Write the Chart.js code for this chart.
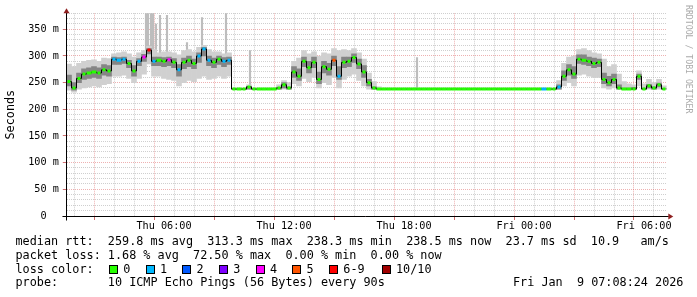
<!DOCTYPE html>
<html>
<head>
<meta charset="utf-8">
<script src="https://cdn.jsdelivr.net/npm/chart.js@4.4.1/dist/chart.umd.min.js"></script>
<style>
  body { margin: 0; background: #fff; }
  #wrap { position: relative; width: 697px; height: 297px; overflow: hidden; }
  #chart { position: absolute; left: 0; top: 0; }
  .leg { position: absolute; font-family: 'DejaVu Sans Mono', monospace; font-size: 11.8px; line-height: 14px; white-space: pre; color: #000; }
  .box { position: absolute; width: 7px; height: 7px; border: 1px solid #000; }
</style>
</head>
<body>
<div id="wrap">
  <canvas id="chart" width="697" height="297"></canvas>
</div>
<script>
// samples every 15 min, hours counted from Thu 00:00
const startHour = 1.25;
const stepHour = 0.25;

// median rtt (ms)
const median = [
  252, 240, 258, 266, 268, 270, 268, 274, 272, 294,
  292, 294, 286, 272, 290, 298, 311, 290, 292, 290,
  293, 288, 274, 288, 292, 286, 300, 313, 292, 288,
  294, 290, 292, 238, 238, 238, 242, 238, 238, 238,
  238, 238, 240, 246, 240, 270, 262, 290, 278, 288,
  256, 280, 275, 292, 262, 288, 290, 297, 285, 270,
  250, 240, 238, 238, 238, 238, 238, 238, 238, 238,
  238, 238, 238, 238, 238, 238, 238, 238, 238, 238,
  238, 238, 238, 238, 238, 238, 238, 238, 238, 238,
  238, 238, 238, 238, 238, 238, 238, 238, 242, 262,
  274, 266, 294, 292, 290, 286, 288, 256, 250, 256,
  240, 238, 238, 238, 262, 238, 244, 240, 246, 238
];

// smoke: outer (min/max of the pings) and inner band
const smokeHi = [
  285, 280, 286, 290, 292, 293, 290, 296, 295, 304,
  306, 308, 304, 298, 306, 310, 318, 312, 306, 308,
  308, 306, 302, 310, 312, 308, 316, 320, 312, 308,
  308, 304, 306, 240, 240, 240, 246, 240, 240, 240,
  240, 240, 246, 254, 250, 290, 296, 310, 304, 308,
  300, 306, 304, 314, 310, 312, 310, 314, 306, 294,
  268, 252, 242, 240, 240, 240, 240, 240, 240, 240,
  240, 240, 240, 240, 240, 240, 240, 240, 240, 240,
  240, 240, 240, 240, 240, 240, 240, 240, 240, 240,
  240, 240, 240, 240, 240, 240, 240, 240, 254, 286,
  298, 300, 312, 314, 310, 306, 304, 294, 280, 284,
  266, 252, 248, 246, 272, 248, 256, 250, 256, 244
];
const smokeLo = [
  236, 232, 238, 240, 242, 244, 242, 246, 248, 262,
  262, 264, 258, 250, 258, 266, 285, 262, 262, 258,
  256, 254, 244, 250, 254, 252, 258, 262, 256, 258,
  262, 258, 262, 238, 238, 238, 238, 238, 238, 238,
  238, 238, 238, 238, 238, 248, 244, 258, 252, 260,
  240, 250, 246, 260, 240, 256, 262, 266, 254, 244,
  238, 238, 238, 238, 238, 238, 238, 238, 238, 238,
  238, 238, 238, 238, 238, 238, 238, 238, 238, 238,
  238, 238, 238, 238, 238, 238, 238, 238, 238, 238,
  238, 238, 238, 238, 238, 238, 238, 238, 238, 244,
  250, 244, 264, 266, 262, 260, 260, 240, 238, 240,
  238, 238, 238, 238, 244, 238, 238, 238, 238, 238
];
const coreHi = [
  264, 250, 268, 276, 278, 280, 278, 284, 282, 298,
  297, 298, 292, 282, 295, 303, 314, 298, 298, 297,
  298, 295, 284, 296, 300, 294, 306, 316, 300, 296,
  300, 297, 298, 238, 238, 238, 243, 238, 238, 238,
  238, 238, 241, 250, 242, 280, 276, 298, 290, 298,
  270, 290, 286, 300, 280, 298, 298, 304, 294, 282,
  256, 242, 238, 238, 238, 238, 238, 238, 238, 238,
  238, 238, 238, 238, 238, 238, 238, 238, 238, 238,
  238, 238, 238, 238, 238, 238, 238, 238, 238, 238,
  238, 238, 238, 238, 238, 238, 238, 238, 246, 272,
  284, 280, 302, 302, 298, 296, 294, 268, 262, 266,
  246, 240, 240, 241, 266, 240, 247, 242, 249, 239
];
const coreLo = [
  244, 236, 250, 256, 258, 260, 258, 264, 262, 284,
  284, 286, 278, 262, 282, 290, 304, 282, 282, 280,
  282, 278, 262, 276, 280, 276, 288, 300, 282, 278,
  284, 280, 284, 238, 238, 238, 238, 238, 238, 238,
  238, 238, 238, 240, 238, 260, 254, 280, 268, 278,
  248, 268, 264, 282, 256, 278, 280, 288, 276, 260,
  244, 238, 238, 238, 238, 238, 238, 238, 238, 238,
  238, 238, 238, 238, 238, 238, 238, 238, 238, 238,
  238, 238, 238, 238, 238, 238, 238, 238, 238, 238,
  238, 238, 238, 238, 238, 238, 238, 238, 238, 254,
  264, 258, 286, 284, 282, 278, 280, 248, 244, 248,
  238, 238, 238, 238, 256, 238, 240, 238, 242, 238
];

// loss class per sample (index into lossColors)
const lossClass = [
  0, 0, 0, 0, 0, 0, 0, 0, 0, 1,
  1, 1, 0, 0, 1, 4, 6, 1, 0, 0,
  4, 0, 1, 0, 0, 0, 1, 1, 1, 0,
  0, 1, 1, 0, 0, 0, 0, 0, 0, 0,
  0, 0, 0, 0, 0, 0, 0, 0, 0, 0,
  0, 0, 0, 5, 1, 0, 0, 0, 0, 0,
  0, 0, 0, 0, 0, 0, 0, 0, 0, 0,
  0, 0, 0, 0, 0, 0, 0, 0, 0, 0,
  0, 0, 0, 0, 0, 0, 0, 0, 0, 0,
  0, 0, 0, 0, 0, 1, 0, 0, 1, 0,
  0, 0, 0, 0, 0, 0, 0, 0, 0, 0,
  0, 0, 0, 0, 0, 0, 0, 0, 0, 0
];

// single slow pings sticking out of the smoke
const spikeHours = [5.1, 5.2, 5.35, 5.45, 5.6, 5.8, 6.15, 7.15, 7.9, 9.1, 10.3, 18.65];
const spikeTops  = [380, 380, 380, 380, 360, 376, 376, 325, 372, 380, 310, 297];
const spikeBases = [300, 300, 305, 300, 290, 290, 290, 290, 295, 290, 238, 238];

const lossLabels = ['0', '1', '2', '3', '4', '5', '6-9', '10/10'];
const lossColors = ['#26ff00', '#00b8ff', '#0059ff', '#7e00ff', '#ff00ff', '#ff5500', '#ff0000', '#a10000'];

const xTickHours  = [6, 12, 18, 24, 30];
const xTickLabels = ['Thu 06:00', 'Thu 12:00', 'Thu 18:00', 'Fri 00:00', 'Fri 06:00'];
const yTickValues = [0, 50, 100, 150, 200, 250, 300, 350];
const yTickLabels = ['0  ', '50 m', '100 m', '150 m', '200 m', '250 m', '300 m', '350 m'];

const statsRtt  = 'median rtt:  259.8 ms avg  313.3 ms max  238.3 ms min  238.5 ms now  23.7 ms sd  10.9   am/s';
const statsLoss = 'packet loss: 1.68 % avg  72.50 % max  0.00 % min  0.00 % now';
const probeText = 'probe:       10 ICMP Echo Pings (56 Bytes) every 90s';
const stampText = 'Fri Jan  9 07:08:24 2026';

// --- layout / styles ---
const minorGrid = 'rgba(140,140,140,0.42)';
const majorGrid = 'rgba(215,70,70,0.42)';
const lossBoxX = [109, 145.7, 182.3, 219, 255.7, 292.3, 329, 381.7];

document.addEventListener('DOMContentLoaded', function () {
    const hours = median.map((v, i) => startHour + i * stepHour);
    const band = (lo, hi) => lo.map((v, i) => ({ x: hours[i], y: [v, hi[i]] }));
    const gridHours = Array.from({ length: 30 }, (_, k) => k + 2);
    const gridMs = Array.from({ length: 39 }, (_, k) => k * 10);

    // wide marker where the median stays level, narrow where it jumps
    const markerRadius = ctx => {
        const i = ctx.dataIndex;
        const prev = median[i - 1] ?? median[i];
        const next = median[i + 1] ?? median[i];
        return (Math.abs(prev - median[i]) < 3 && Math.abs(next - median[i]) < 3) ? 2.5 : 1.5;
    };

    const rrdDecor = {
        id: 'rrdDecor',
        afterDatasetsDraw(chart) {
            const { ctx, chartArea: a } = chart;
            const lx = Math.floor(a.left) + 0.5;
            const by = Math.round(a.bottom) + 0.5;
            ctx.save();
            ctx.strokeStyle = '#000';
            ctx.lineWidth = 1;
            ctx.beginPath();
            ctx.moveTo(lx - 4, by); ctx.lineTo(a.right + 2, by);
            ctx.moveTo(lx, by + 4); ctx.lineTo(lx, a.top - 3);
            ctx.stroke();

            // arrow heads
            ctx.fillStyle = '#8f2020';
            ctx.beginPath();
            ctx.moveTo(lx - 3, a.top); ctx.lineTo(lx + 3, a.top); ctx.lineTo(lx, a.top - 5);
            ctx.closePath(); ctx.fill();
            ctx.beginPath();
            ctx.moveTo(a.right + 1.5, by - 3); ctx.lineTo(a.right + 1.5, by + 3); ctx.lineTo(a.right + 6.5, by);
            ctx.closePath(); ctx.fill();

            // watermark
            ctx.translate(688.5, 5);
            ctx.rotate(Math.PI / 2);
            ctx.font = '8.2px "DejaVu Sans Mono"';
            ctx.fillStyle = '#aaaaaa';
            ctx.textBaseline = 'middle';
            ctx.fillText('RRDTOOL / TOBI OETIKER', 0, 0);
            ctx.restore();
        }
    };

    Chart.defaults.font.family = '"DejaVu Sans Mono", monospace';

    const chartCanvas = document.getElementById('chart');
    new Chart(chartCanvas.getContext('2d'), {
        type: 'line',
        data: {
            datasets: [
                {
                    type: 'bar',
                    data: spikeHours.map((h, i) => ({ x: h, y: [spikeBases[i], spikeTops[i]] })),
                    backgroundColor: '#bdbdbd',
                    barThickness: 1.5,
                    grouped: false,
                    order: 7
                },
                {
                    type: 'bar',
                    data: band(smokeLo, smokeHi),
                    backgroundColor: '#d0d0d0',
                    barThickness: 5,
                    grouped: false,
                    order: 6
                },
                {
                    type: 'bar',
                    data: band(coreLo, coreHi),
                    backgroundColor: '#858585',
                    barThickness: 5,
                    grouped: false,
                    order: 5
                },
                {
                    data: median.map((v, i) => ({ x: hours[i], y: v })),
                    borderColor: '#000',
                    borderWidth: 1,
                    stepped: 'middle',
                    pointRadius: 0,
                    order: 2
                },
                {
                    data: median.map((v, i) => ({ x: hours[i], y: v })),
                    showLine: false,
                    pointStyle: 'line',
                    pointRadius: markerRadius,
                    pointBorderWidth: 3,
                    pointBorderColor: lossClass.map(k => lossColors[k]),
                    order: 1
                }
            ]
        },
        options: {
            responsive: false,
            animation: false,
            devicePixelRatio: 1,
            events: [],
            layout: { padding: { top: 13.3, right: 30.2, left: 0, bottom: 0 } },
            plugins: { legend: { display: false }, tooltip: { enabled: false } },
            scales: {
                x: {
                    type: 'linear',
                    min: 1.14,
                    max: 31.14,
                    offset: false,
                    afterBuildTicks: s => { s.ticks = gridHours.map(v => ({ value: v })); },
                    afterFit: s => { s.height = 81; },
                    grid: {
                        color: c => (c.tick && c.tick.value % 3 === 0) ? majorGrid : minorGrid,
                        tickLength: 4,
                        tickColor: c => (c.tick && c.tick.value % 3 === 0) ? '#d07070' : 'rgba(0,0,0,0)'
                    },
                    border: { display: false, dash: [1, 1] },
                    ticks: {
                        autoSkip: false,
                        maxRotation: 0,
                        padding: 0,
                        color: '#000',
                        font: { size: 10.2 },
                        callback: v => {
                            const k = xTickHours.indexOf(v);
                            return k < 0 ? '' : xTickLabels[k];
                        }
                    }
                },
                y: {
                    min: 0,
                    max: 380,
                    afterBuildTicks: s => { s.ticks = gridMs.map(v => ({ value: v })); },
                    afterFit: s => { s.width = 66.8; },
                    grid: {
                        color: c => (c.tick && c.tick.value % 50 === 0) ? majorGrid : minorGrid,
                        tickLength: 4,
                        tickColor: c => (c.tick && c.tick.value % 50 === 0) ? '#d07070' : 'rgba(0,0,0,0)'
                    },
                    border: { display: false, dash: [1, 1] },
                    ticks: {
                        autoSkip: false,
                        padding: 4,
                        color: '#000',
                        font: { size: 10.2 },
                        callback: v => {
                            const k = yTickValues.indexOf(v);
                            return k < 0 ? '' : yTickLabels[k];
                        }
                    },
                    title: {
                        display: true,
                        text: 'Seconds',
                        color: '#000',
                        font: { size: 11.8 },
                        padding: { top: 4, bottom: 0 }
                    }
                }
            }
        },
        plugins: [rrdDecor]
    });

    // legend block under the graph
    const wrap = document.getElementById('wrap');
    function addText(txt, left, top) {
        const d = document.createElement('div');
        d.className = 'leg';
        d.textContent = txt;
        d.style.left = left + 'px';
        d.style.top = top + 'px';
        wrap.appendChild(d);
    }
    addText(statsRtt, 15.5, 234);
    addText(statsLoss, 15.5, 247.5);
    addText('loss color:', 15.5, 261.5);
    lossLabels.forEach((lab, k) => {
        const b = document.createElement('div');
        b.className = 'box';
        b.style.left = lossBoxX[k] + 'px';
        b.style.top = '265px';
        b.style.background = lossColors[k];
        wrap.appendChild(b);
        addText(lab, lossBoxX[k] + 14.3, 261.5);
    });
    addText(probeText, 15.5, 275);
    addText(stampText, 513, 275);
});
</script>
</body>
</html>
